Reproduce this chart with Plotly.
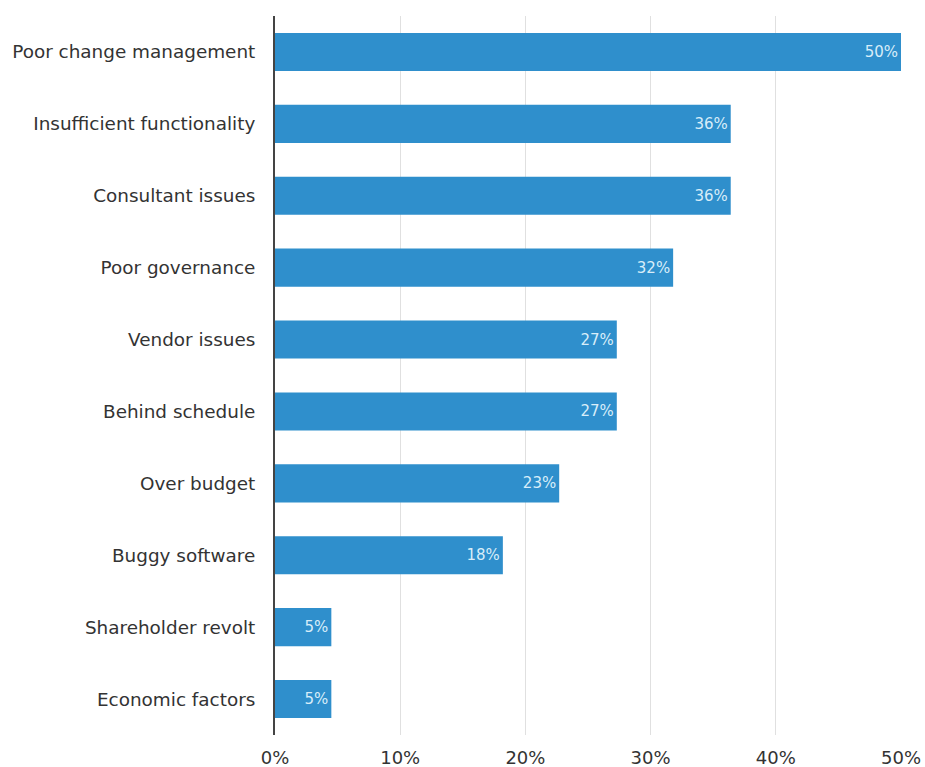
import plotly.graph_objects as go

categories = ["Poor change management", "Insufficient functionality", "Consultant issues",
              "Poor governance", "Vendor issues", "Behind schedule", "Over budget",
              "Buggy software", "Shareholder revolt", "Economic factors"]
values = [50.0, 36.4, 36.4, 31.8, 27.3, 27.3, 22.7, 18.2, 4.5, 4.5]
labels = ["50%", "36%", "36%", "32%", "27%", "27%", "23%", "18%", "5%", "5%"]
tick_vals = [0, 10, 20, 30, 40, 50]
tick_text = ["0%", "10%", "20%", "30%", "40%", "50%"]

fig = go.Figure(go.Bar(
    x=values, y=categories, orientation="h",
    marker=dict(color="#2f8fcc", line=dict(width=0)),
    text=labels, textposition="inside", insidetextanchor="end",
    textfont=dict(family="DejaVu Sans", size=15, color="#d8edf9"),
    cliponaxis=False,
))

fig.update_layout(
    width=925, height=767,
    margin=dict(l=275, r=24, t=16, b=32, autoexpand=False),
    paper_bgcolor="white", plot_bgcolor="white",
    bargap=0.47,
    showlegend=False,
    font=dict(family="DejaVu Sans", color="#333333"),
    xaxis=dict(range=[0, 50], tickvals=tick_vals, ticktext=tick_text,
               showgrid=True, gridcolor="#e0e0e0", gridwidth=1,
               zeroline=False, showline=False, automargin=False,
               tickfont=dict(size=18, color="#333333"), ticks="", ticklen=0,
               ticklabelstandoff=10),
    yaxis=dict(categoryorder="array", categoryarray=categories, autorange="reversed",
               showline=True, linecolor="#444444", linewidth=2, automargin=False,
               tickfont=dict(size=18.4, color="#333333"), ticks="", ticklen=0,
               ticklabelstandoff=14),
)

fig.write_html(
    "out.html",
    config={"displayModeBar": False},
    post_script="document.body.style.margin='0';document.body.style.overflow='hidden';",
)
